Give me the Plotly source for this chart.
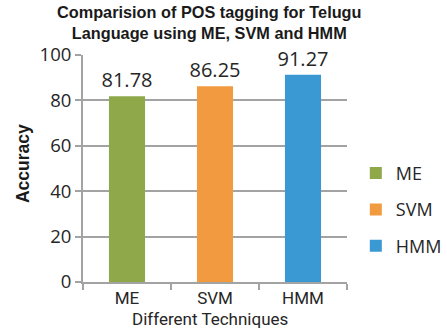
import plotly.graph_objects as go

# Accuracy of POS tagging for Telugu by technique
techniques = ["ME", "SVM", "HMM"]
accuracy = [81.78, 86.25, 91.27]
bar_colors = ["#8FA84A", "#F29A3F", "#3A98D3"]
y_ticks = [0, 20, 40, 60, 80, 100]

AXIS_GRAY = "#A3A3A3"
TEXT = "#262626"
SANS = "Open Sans, Noto Sans, sans-serif"
COMPACT = "Roboto, Open Sans, sans-serif"
BOLD = "Liberation Sans, Arial, sans-serif"

fig = go.Figure()
for name, val, col in zip(techniques, accuracy, bar_colors):
    fig.add_trace(go.Bar(
        x=[name], y=[val], name=name, legendgroup=name,
        marker=dict(color=col, line=dict(width=0)),
        width=0.41,
        text=[f"{val:.2f}"], textposition="outside", constraintext="none",
        textfont=dict(family=SANS, size=20, color=TEXT),
        cliponaxis=False,
    ))

fig.update_layout(
    width=447, height=331,
    margin=dict(l=83, r=100, t=55, b=49, autoexpand=False),
    paper_bgcolor="white", plot_bgcolor="white",
    barmode="overlay",
    showlegend=True,
    legend=dict(
        xref="container", yref="container",
        x=0.796, xanchor="left", y=0.366, yanchor="middle",
        font=dict(family=SANS, size=18, color=TEXT),
        tracegroupgap=10, bgcolor="rgba(0,0,0,0)",
    ),
    annotations=[
        dict(
            text="<b>Comparision of POS tagging for Telugu<br>Language using ME, SVM and HMM</b>",
            font=dict(family=BOLD, size=16.3, color="#1a1a1a"),
            xref="paper", yref="paper", x=0.48, xanchor="center",
            y=1.236, yanchor="top", showarrow=False, align="center",
        ),
        dict(
            text="Different Techniques",
            font=dict(family=COMPACT, size=17, color=TEXT),
            xref="paper", yref="paper", x=0.481, xanchor="center",
            y=-0.214, yanchor="bottom", showarrow=False,
        ),
        dict(
            text="<b>Accuracy</b>", textangle=-90,
            font=dict(family=BOLD, size=17.5, color="#1a1a1a"),
            xref="paper", yref="paper", x=-0.227, xanchor="center",
            y=0.52, yanchor="middle", showarrow=False,
        ),
    ],
    xaxis=dict(
        categoryorder="array", categoryarray=techniques,
        showline=True, linecolor=AXIS_GRAY, linewidth=2,
        ticks="outside", tickson="boundaries", ticklen=6, tickwidth=2, tickcolor=AXIS_GRAY,
        showgrid=False, automargin=False,
        tickfont=dict(family=COMPACT, size=17, color=TEXT),
    ),
    yaxis=dict(
        range=[0, 100], tickvals=y_ticks,
        showline=True, linecolor=AXIS_GRAY, linewidth=2,
        ticks="outside", ticklen=6, tickwidth=2, tickcolor=AXIS_GRAY,
        showgrid=True, gridcolor=AXIS_GRAY, gridwidth=2,
        zeroline=False, automargin=False,
        tickfont=dict(family=SANS, size=18.5, color=TEXT),
    ),
)

fig.write_html("out.html")
